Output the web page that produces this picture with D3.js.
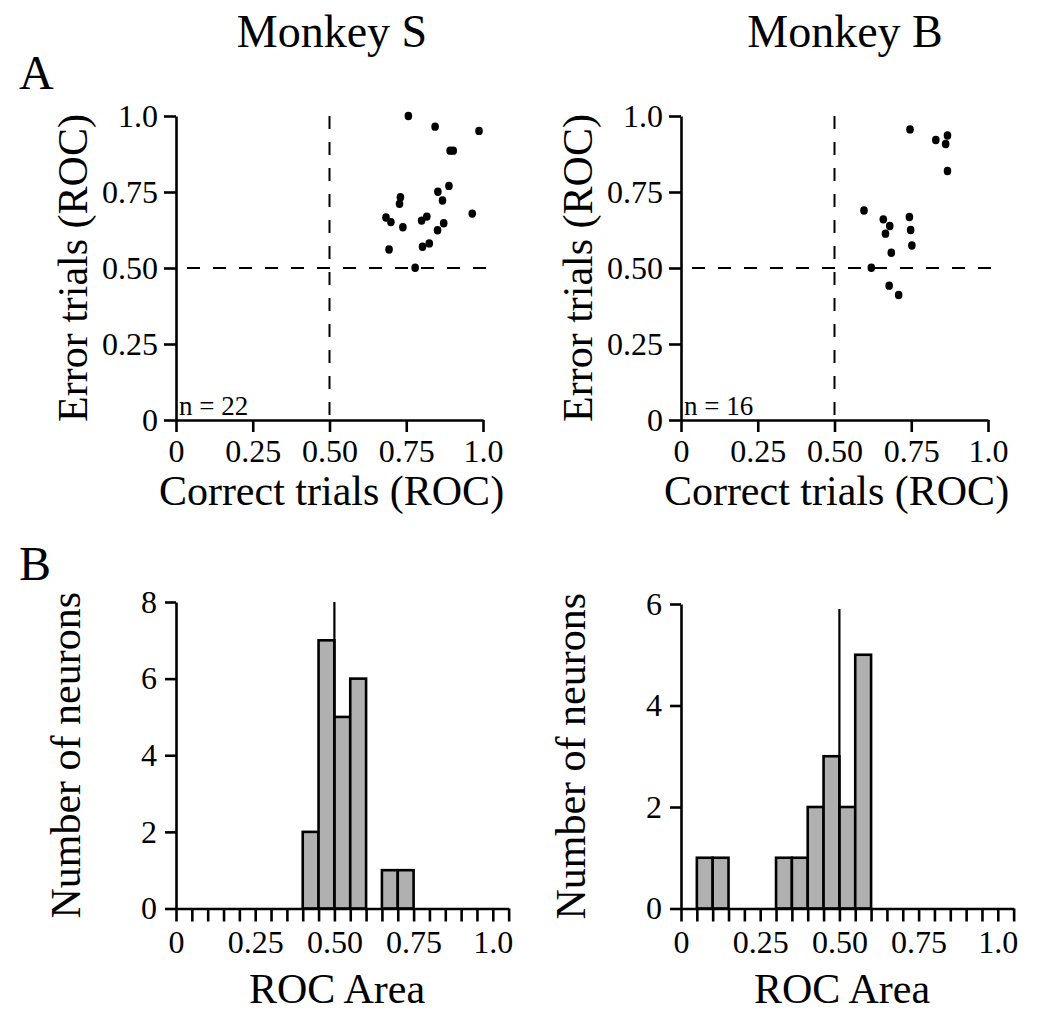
<!DOCTYPE html>
<html>
<head>
<meta charset="utf-8">
<script src="https://cdn.jsdelivr.net/npm/d3@7"></script>
<style>
  body { margin: 0; background: #fff; }
  svg { display: block; }
</style>
</head>
<body>
<svg width="1050" height="1020"></svg>
<script>
// Scatter: ROC on correct trials (x) vs error trials (y)
const monkeySCorrect = [0.757, 0.844, 0.987, 0.893, 0.903, 0.889, 0.853, 0.868, 0.731, 0.728, 0.684,
                        0.700, 0.739, 0.800, 0.817, 0.872, 0.852, 0.965, 0.694, 0.803, 0.825, 0.779];
const monkeySError   = [1.000, 0.965, 0.951, 0.886, 0.886, 0.770, 0.751, 0.722, 0.733, 0.711, 0.666,
                        0.651, 0.634, 0.656, 0.669, 0.647, 0.624, 0.679, 0.561, 0.570, 0.581, 0.501];
const monkeyBCorrect = [0.746, 0.830, 0.868, 0.862, 0.868, 0.596, 0.659, 0.680, 0.666, 0.744, 0.748,
                        0.752, 0.685, 0.620, 0.678, 0.709];
const monkeyBError   = [0.956, 0.921, 0.936, 0.908, 0.819, 0.689, 0.660, 0.638, 0.613, 0.668, 0.625,
                        0.574, 0.550, 0.501, 0.442, 0.411];

// Histograms of ROC area (bins of 0.05, given by left edge)
const binStartsS = [0.40, 0.45, 0.50, 0.55, 0.65, 0.70];
const countsS    = [2, 7, 5, 6, 1, 1];
const binStartsB = [0.05, 0.10, 0.30, 0.35, 0.40, 0.45, 0.50, 0.55];
const countsB    = [1, 1, 1, 1, 2, 3, 2, 5];
const binWidth = 0.05;

const rocTicks = [0, 0.25, 0.5, 0.75, 1.0];
const rocTickLabels = ['0', '0.25', '0.50', '0.75', '1.0'];
const histYTicksS = [0, 2, 4, 6, 8];
const histYTicksB = [0, 2, 4, 6];
const refLineTopS = 8;
const refLineTopB = 5.9;

const font = "'Liberation Serif', 'Times New Roman', serif";
const ink = '#000';
const svg = d3.select('svg');

function label(txt) {
    const i = rocTicks.findIndex(t => Math.abs(t - txt) < 1e-6);
    return i < 0 ? '' : rocTickLabels[i];
}

function styleAxis(g, size) {
    g.attr('font-family', font).attr('font-size', size);
    g.selectAll('path.domain').attr('stroke', ink).attr('stroke-width', 2.6);
    g.selectAll('.tick line').attr('stroke', ink).attr('stroke-width', 2.6);
    g.selectAll('.tick text').attr('fill', ink);
}

function scatter(left, xs, ys, n) {
    const x = d3.scaleLinear().domain([0, 1]).range([left, left + 307]);
    const y = d3.scaleLinear().domain([0, 1]).range([420, 116]);

    // dashed reference lines at 0.5
    svg.append('line')
        .attr('x1', x(0)).attr('x2', x(1) + 4)
        .attr('y1', y(0.5)).attr('y2', y(0.5))
        .attr('stroke', ink).attr('stroke-width', 2)
        .attr('stroke-dasharray', '13,13').attr('stroke-dashoffset', 15);
    svg.append('line')
        .attr('x1', x(0.5)).attr('x2', x(0.5))
        .attr('y1', y(1)).attr('y2', y(0))
        .attr('stroke', ink).attr('stroke-width', 2)
        .attr('stroke-dasharray', '13,13');

    const gx = svg.append('g').attr('transform', `translate(0,${y(0)})`)
        .call(d3.axisBottom(x).tickValues(rocTicks).tickFormat(label)
            .tickSize(12).tickSizeOuter(0).tickPadding(7));
    styleAxis(gx, 32);
    const gy = svg.append('g').attr('transform', `translate(${x(0)},0)`)
        .call(d3.axisLeft(y).tickValues(rocTicks).tickFormat(label)
            .tickSize(12).tickSizeOuter(0).tickPadding(6));
    styleAxis(gy, 32);

    svg.append('g').selectAll('ellipse').data(xs)
        .enter().append('ellipse')
        .attr('cx', (d, i) => x(d))
        .attr('cy', (d, i) => y(ys[i]))
        .attr('rx', 3.8).attr('ry', 4.2)
        .attr('fill', ink);

    svg.append('text').attr('x', x(0) + 3).attr('y', 415)
        .attr('font-family', font).attr('font-size', 27).attr('fill', ink)
        .text('n = ' + n);

    svg.append('text').attr('x', x(0.5) + 2).attr('y', 505)
        .attr('text-anchor', 'middle')
        .attr('font-family', font).attr('font-size', 42).attr('fill', ink)
        .text('Correct trials (ROC)');
    svg.append('text')
        .attr('transform', `translate(${left - 89},${(y(0) + y(1)) / 2}) rotate(-90)`)
        .attr('text-anchor', 'middle')
        .attr('font-family', font).attr('font-size', 42).attr('fill', ink)
        .text('Error trials (ROC)');
}

function histogram(left, starts, counts, yTicks, yTop, lineTop) {
    const x = d3.scaleLinear().domain([0, 1.05]).range([left, left + 316.8 * 1.05]);
    const y = d3.scaleLinear().domain([0, d3.max(yTicks)]).range([908.5, yTop]);

    svg.append('g').selectAll('rect').data(counts)
        .enter().append('rect')
        .attr('x', (d, i) => x(starts[i]))
        .attr('y', d => y(d))
        .attr('width', (d, i) => x(starts[i] + binWidth) - x(starts[i]))
        .attr('height', d => y(0) - y(d))
        .attr('fill', '#b0b0b0')
        .attr('stroke', ink).attr('stroke-width', 2.6);

    svg.append('line')
        .attr('x1', x(0.5)).attr('x2', x(0.5))
        .attr('y1', y(0)).attr('y2', y(lineTop))
        .attr('stroke', ink).attr('stroke-width', 2.2);

    const xTicks = d3.range(22).map(i => i * binWidth);
    const gx = svg.append('g').attr('transform', `translate(0,${y(0)})`)
        .call(d3.axisBottom(x).tickValues(xTicks).tickFormat(label)
            .tickSize(13).tickSizeOuter(0).tickPadding(9));
    styleAxis(gx, 32);
    const gy = svg.append('g').attr('transform', `translate(${x(0)},0)`)
        .call(d3.axisLeft(y).tickValues(yTicks).tickFormat(d3.format('d'))
            .tickSize(11).tickSizeOuter(0).tickPadding(8));
    styleAxis(gy, 32);

    svg.append('text').attr('x', left + 161).attr('y', 1003)
        .attr('text-anchor', 'middle')
        .attr('font-family', font).attr('font-size', 42).attr('fill', ink)
        .text('ROC Area');
    svg.append('text')
        .attr('transform', `translate(${left - 96},${(y(0) + yTop) / 2}) rotate(-90)`)
        .attr('text-anchor', 'middle')
        .attr('font-family', font).attr('font-size', 42).attr('fill', ink)
        .text('Number of neurons');
}

scatter(176, monkeySCorrect, monkeySError, 22);
scatter(681, monkeyBCorrect, monkeyBError, 16);
histogram(176, binStartsS, countsS, histYTicksS, 602, refLineTopS);
histogram(681, binStartsB, countsB, histYTicksB, 604, refLineTopB);

// titles and panel letters
svg.append('text').attr('x', 332).attr('y', 47).attr('text-anchor', 'middle')
    .attr('font-family', font).attr('font-size', 46).attr('fill', ink).text('Monkey S');
svg.append('text').attr('x', 845).attr('y', 47).attr('text-anchor', 'middle')
    .attr('font-family', font).attr('font-size', 46).attr('fill', ink).text('Monkey B');
svg.append('text').attr('x', 19).attr('y', 89)
    .attr('font-family', font).attr('font-size', 48).attr('fill', ink).text('A');
svg.append('text').attr('x', 19).attr('y', 580)
    .attr('font-family', font).attr('font-size', 48).attr('fill', ink).text('B');
</script>
</body>
</html>
